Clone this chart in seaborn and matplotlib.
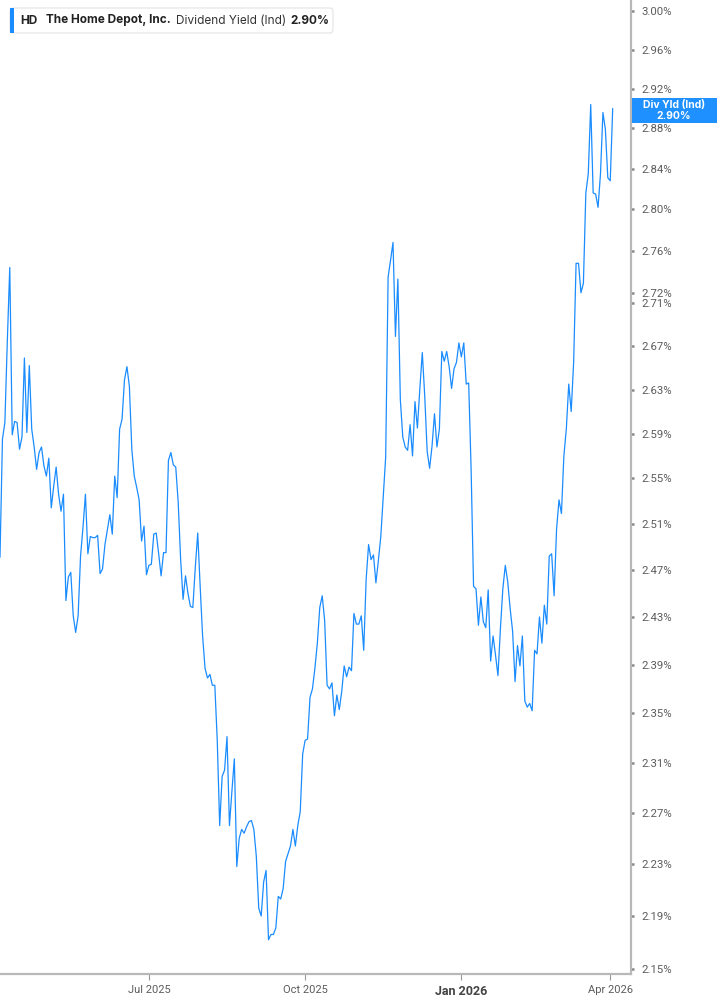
import pandas as pd
import numpy as np
import matplotlib
matplotlib.use("Agg")
import matplotlib.pyplot as plt
import matplotlib.ticker as mticker
from matplotlib.patches import Rectangle, FancyBboxPatch
import seaborn as sns

# chart data (1Y daily dividend yield, %)
symbol = "HD"
company = "The Home Depot, Inc."
metric = "Dividend Yield (Ind)"
start_date = "2025-04-02"
end_date = "2026-04-02"
market_holidays = ["2025-04-18", "2025-05-26", "2025-06-19", "2025-07-04", "2025-09-01",
                   "2025-11-27", "2025-12-25", "2026-01-01", "2026-01-19", "2026-02-16"]

div_yield = [
    2.481, 2.585, 2.600, 2.675, 2.744, 2.589, 2.601, 2.600, 2.576, 2.587,
    2.659, 2.591, 2.652, 2.594, 2.578, 2.558, 2.573, 2.578, 2.561, 2.552,
    2.568, 2.524, 2.543, 2.560, 2.536, 2.521, 2.536, 2.444, 2.464, 2.468,
    2.431, 2.417, 2.431, 2.482, 2.507, 2.536, 2.484, 2.499, 2.498, 2.498,
    2.500, 2.467, 2.471, 2.492, 2.505, 2.518, 2.501, 2.552, 2.533, 2.594,
    2.603, 2.639, 2.651, 2.633, 2.576, 2.552, 2.542, 2.531, 2.495, 2.508,
    2.466, 2.474, 2.475, 2.501, 2.502, 2.484, 2.465, 2.485, 2.485, 2.566,
    2.573, 2.562, 2.560, 2.529, 2.479, 2.445, 2.465, 2.450, 2.439, 2.438,
    2.472, 2.502, 2.456, 2.414, 2.387, 2.379, 2.382, 2.373, 2.373, 2.328,
    2.260, 2.299, 2.304, 2.331, 2.260, 2.287, 2.313, 2.228, 2.250, 2.257,
    2.254, 2.259, 2.263, 2.264, 2.257, 2.236, 2.196, 2.190, 2.216, 2.225,
    2.172, 2.176, 2.176, 2.181, 2.205, 2.203, 2.211, 2.232, 2.238, 2.244,
    2.257, 2.244, 2.260, 2.271, 2.317, 2.328, 2.329, 2.363, 2.370, 2.387,
    2.408, 2.438, 2.448, 2.427, 2.373, 2.370, 2.375, 2.348, 2.365, 2.353,
    2.368, 2.389, 2.380, 2.388, 2.385, 2.433, 2.424, 2.424, 2.431, 2.402,
    2.462, 2.492, 2.479, 2.483, 2.459, 2.478, 2.499, 2.533, 2.569, 2.735,
    2.751, 2.768, 2.679, 2.733, 2.621, 2.587, 2.578, 2.575, 2.598, 2.570,
    2.619, 2.595, 2.631, 2.664, 2.624, 2.574, 2.559, 2.579, 2.608, 2.578,
    2.594, 2.665, 2.656, 2.665, 2.651, 2.631, 2.649, 2.655, 2.673, 2.660,
    2.673, 2.635, 2.636, 2.558, 2.456, 2.454, 2.423, 2.447, 2.426, 2.421,
    2.453, 2.393, 2.414, 2.398, 2.381, 2.420, 2.454, 2.474, 2.460, 2.437,
    2.418, 2.376, 2.406, 2.389, 2.414, 2.360, 2.355, 2.358, 2.352, 2.402,
    2.399, 2.430, 2.408, 2.440, 2.424, 2.482, 2.484, 2.448, 2.505, 2.531,
    2.519, 2.570, 2.594, 2.635, 2.610, 2.655, 2.748, 2.748, 2.720, 2.729,
    2.816, 2.835, 2.904, 2.816, 2.815, 2.802, 2.835, 2.896, 2.879, 2.831,
    2.828, 2.900,
]

y_ticks = [3.00, 2.96, 2.92, 2.88, 2.84, 2.80, 2.76, 2.72, 2.71, 2.67, 2.63, 2.59,
           2.55, 2.51, 2.47, 2.43, 2.39, 2.35, 2.31, 2.27, 2.23, 2.19, 2.15]
x_tick_months = ["2025-07-01", "2025-10-01", "2026-01-01", "2026-04-01"]
x_tick_labels = ["Jul 2025", "Oct 2025", "Jan 2026", "Apr 2026"]

dates = pd.bdate_range(start_date, end_date, freq="C", holidays=market_holidays)
df = pd.DataFrame({"date": dates, "yield": div_yield})
df["day"] = np.arange(len(df))
print(f"{len(df)} trading days")

LINE = "#1a8cff"
AXIS = "#b8b8b8"
W, H = 717, 1005

sns.set_style("white")
plt.rcParams["font.family"] = ["Roboto", "DejaVu Sans"]

fig = plt.figure(figsize=(W / 100, H / 100), dpi=100)
ax = fig.add_axes([0, 31 / H, 631 / W, 974 / H])

sns.lineplot(data=df, x="day", y="yield", color=LINE, linewidth=0.9, ax=ax)

ax.set_yscale("log")
ax.set_ylim(2.1463, 3.0115)
ax.set_xlim(0, len(df) - 1 + 7.5)

#y axis on the right
ax.yaxis.tick_right()
ax.yaxis.set_major_locator(mticker.FixedLocator(y_ticks))
ax.yaxis.set_minor_locator(mticker.NullLocator())
ax.set_yticklabels([f"{v:.2f}%" for v in y_ticks])
ax.tick_params(axis="y", which="major", right=True, left=False, length=2.5, width=1.8,
               color="#888888", labelcolor="#5c5c5c", labelsize=8.2, pad=5)

#x ticks at first trading day of each quarter month
tick_pos = [int(df.loc[df["date"] >= pd.Timestamp(m), "day"].iloc[0]) for m in x_tick_months]
ax.set_xticks(tick_pos)
ax.set_xticklabels(x_tick_labels)
ax.tick_params(axis="x", bottom=True, length=4, width=0.8, color="#999999",
               labelcolor="#5c5c5c", labelsize=8, pad=4)
for lbl in ax.get_xticklabels():
    if lbl.get_text().startswith("Jan"):
        lbl.set_fontweight("bold")
        lbl.set_color("#444444")
        lbl.set_fontsize(9)

ax.set_xlabel("")
ax.set_ylabel("")
for side in ["left", "top"]:
    ax.spines[side].set_visible(False)
for side in ["right", "bottom"]:
    ax.spines[side].set_color(AXIS)
    ax.spines[side].set_linewidth(1.6)

#legend box top-left
def fx(px):
    return px / W

def fy(py):
    return 1 - py / H

legend_font = ["Inter", "DejaVu Sans"]
fig.patches.append(FancyBboxPatch((fx(10), fy(33)), fx(323), 25 / H,
                                  boxstyle="round,pad=0,rounding_size=0.004",
                                  fc="white", ec="#e4e4e4", lw=0.8,
                                  transform=fig.transFigure, zorder=5))
fig.patches.append(Rectangle((fx(10), fy(33)), fx(3.5), 25 / H, fc=LINE, ec="none",
                             transform=fig.transFigure, zorder=6))
last = df["yield"].iloc[-1]
fig.text(fx(20), fy(20.5), symbol, family=legend_font, weight="bold", size=8.5,
         color="#222222", va="center", zorder=7)
fig.text(fx(46), fy(20.5), company, family=legend_font, weight="bold", size=8.5,
         color="#222222", va="center", zorder=7)
fig.text(fx(176), fy(20.5), metric, family=legend_font, size=8.5,
         color="#333333", va="center", zorder=7)
fig.text(fx(290), fy(20.5), f"{last:.2f}%", family=legend_font, weight="bold", size=8.5,
         color="#222222", va="center", zorder=7)

#last value tag on the y axis
y_disp = ax.transData.transform((0, last))[1]
y_fig = fig.transFigure.inverted().transform((0, y_disp))[1] - 2 / H
fig.patches.append(Rectangle((fx(632), y_fig - 12.5 / H), 1 - fx(632), 25 / H,
                             fc="#1e90ff", ec="none", transform=fig.transFigure, zorder=6))
fig.text(fx(674), y_fig + 5.5 / H, "Div Yld (Ind)", family=legend_font, weight="bold",
         size=7.5, color="white", ha="center", va="center", zorder=7)
fig.text(fx(674), y_fig - 6 / H, f"{last:.2f}%", family=legend_font, weight="bold",
         size=7.5, color="white", ha="center", va="center", zorder=7)

fig.savefig("out.png", dpi=100)
print("Saved: out.png")
